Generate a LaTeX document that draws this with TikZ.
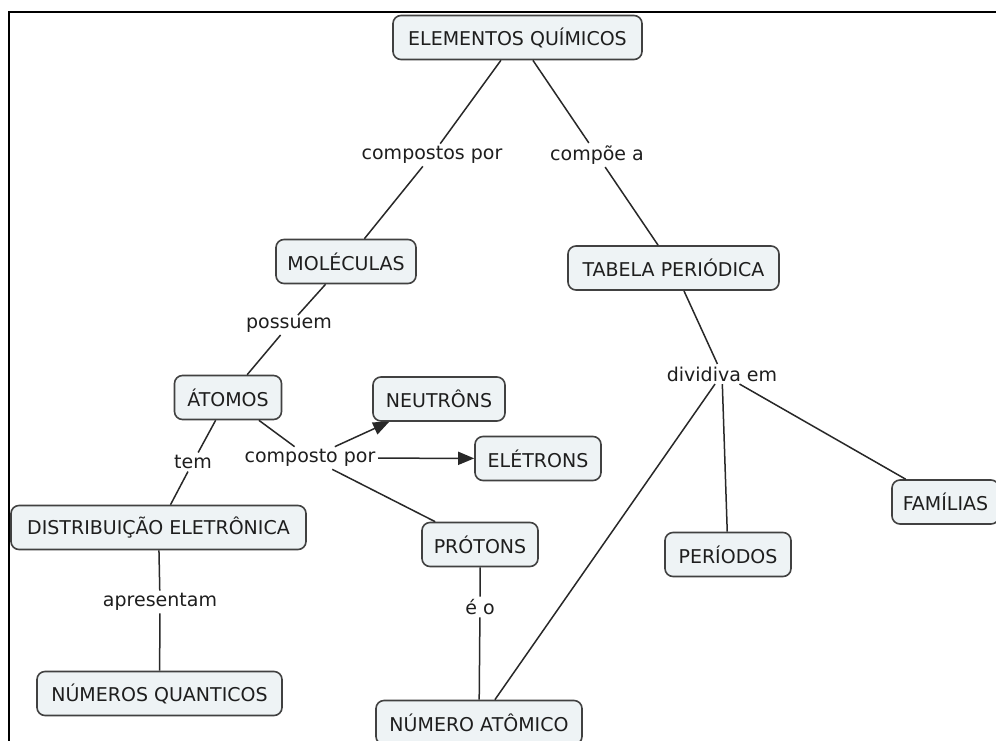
\documentclass[tikz,border=0pt]{standalone}
\usepackage{fontspec}
\setmainfont{DejaVu Sans}
\usetikzlibrary{arrows.meta}
\definecolor{boxfill}{RGB}{238,243,245}
\definecolor{boxline}{RGB}{65,65,65}
\definecolor{linkc}{RGB}{40,40,40}
\definecolor{txt}{RGB}{30,30,30}
\begin{document}
\begin{tikzpicture}[x=1pt,y=-1pt,
  concept/.style={draw=boxline, line width=1.6pt, fill=boxfill, rounded corners=8pt,
    minimum height=44pt, inner sep=0pt, text=txt, font=\fontsize{19}{22}\selectfont},
  lbl/.style={fill=white, inner sep=2.5pt, text=txt, font=\fontsize{19}{22}\selectfont},
  link/.style={draw=linkc, line width=1.5pt},
  arr/.style={link, -{Triangle[length=16pt,width=13pt]}}]
\clip (0,0) rectangle (996,740);
\fill[white] (0,0) rectangle (996,740);
\draw[line width=2pt] (9,742) -- (9,12) -- (998,12);

% concepts
\node[concept, minimum width=249pt] (eq) at (517.5,37.5) {ELEMENTOS QUÍMICOS};
\node[concept, minimum width=140pt] (mol) at (346,261.5) {MOLÉCULAS};
\node[concept, minimum width=211pt] (tab) at (673.5,268) {TABELA PERIÓDICA};
\node[concept, minimum width=107pt] (ato) at (228,397.5) {ÁTOMOS};
\node[concept, minimum width=132pt] (neu) at (439,399) {NEUTRÔNS};
\node[concept, minimum width=126pt] (ele) at (538,458.5) {ELÉTRONS};
\node[concept, minimum width=295pt] (dist) at (158.5,527.5) {DISTRIBUIÇÃO ELETRÔNICA};
\node[concept, minimum width=116pt] (pro) at (480,544.5) {PRÓTONS};
\node[concept, minimum width=107pt] (fam) at (945.5,502) {FAMÍLIAS};
\node[concept, minimum width=126pt] (per) at (728,554.5) {PERÍODOS};
\node[concept, minimum width=245pt] (nq) at (159.5,693.5) {NÚMEROS QUANTICOS};
\node[concept, minimum width=206pt] (na) at (479,722.5) {NÚMERO ATÔMICO};

% link labels
\node[lbl] (l1) at (432,155) {compostos por};
\node[lbl] (l2) at (597,155) {compõe a};
\node[lbl] (l3) at (289,325) {possuem};
\node[lbl] (l4) at (722,374) {dividiva em};
\node[lbl] (l5) at (193,462) {tem};
\node[lbl] (l6) at (310,458) {composto por};
\node[lbl] (l7) at (160,602) {apresentam};
\node[lbl] (l8) at (480,607) {é o};

% connectors
\draw[link] (eq) -- (l1) -- (mol);
\draw[link] (eq) -- (l2) -- (tab);
\draw[link] (mol) -- (l3) -- (ato);
\draw[link] (ato) -- (l5) -- (dist);
\draw[link] (ato) -- (l6);
\draw[arr] (l6) -- (neu);
\draw[arr] (l6) -- (ele);
\draw[link] (l6) -- (pro);
\draw[link] (dist) -- (l7) -- (nq);
\draw[link] (pro) -- (l8) -- (na);
\draw[link] (tab) -- (l4);
\draw[link] (l4) -- (na);
\draw[link] (l4) -- (per);
\draw[link] (l4) -- (fam);
\end{tikzpicture}
\end{document}
